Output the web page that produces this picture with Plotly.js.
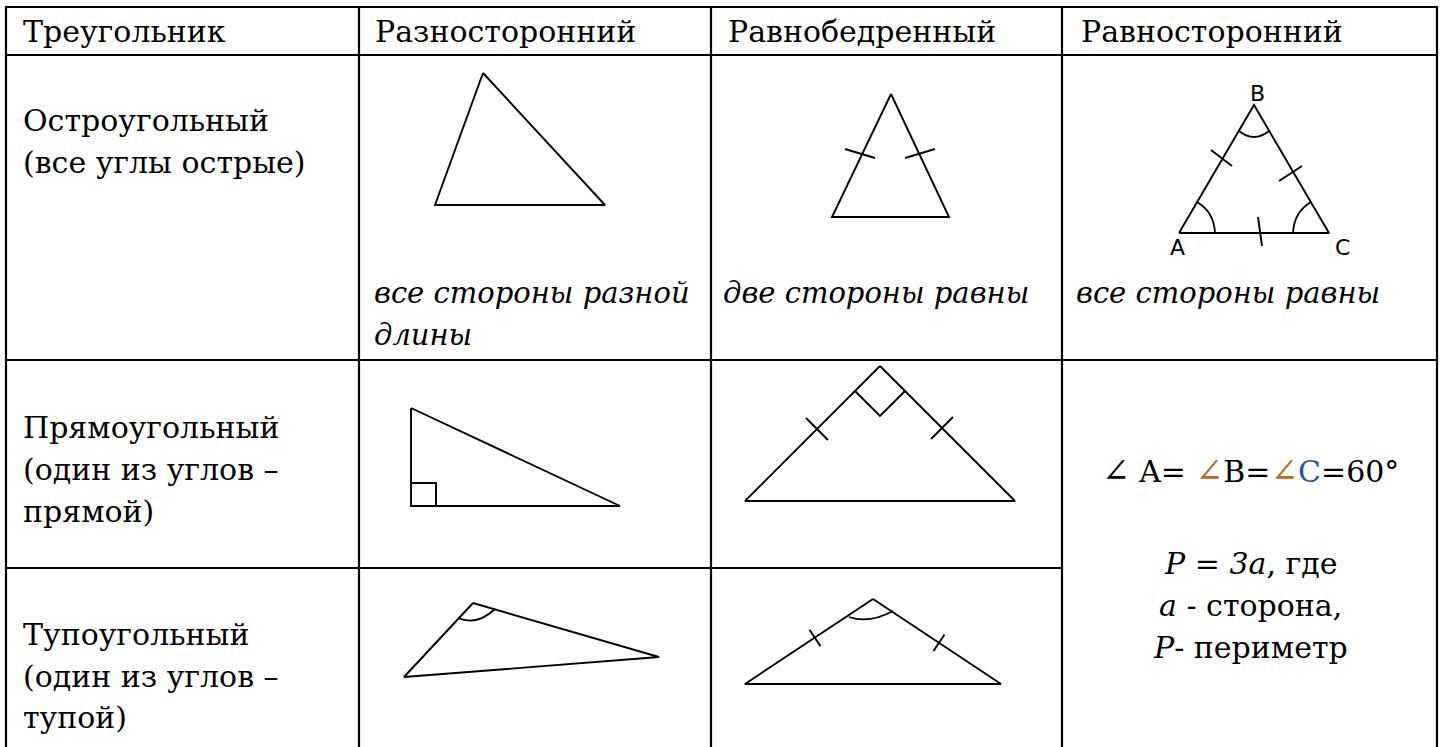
<!DOCTYPE html>
<html>
<head>
<meta charset="utf-8">
<script src="https://cdn.plot.ly/plotly-3.0.1.min.js"></script>
<style>html,body{margin:0;padding:0;background:#fff;}#chart{width:1445px;height:747px;}</style>
</head>
<body>
<div id="chart"></div>
<script>
// ---- table content ----
const headers = ["Треугольник", "Разносторонний", "Равнобедренный", "Равносторонний"];
const rowLabels = [
  ["Остроугольный", "(все углы острые)"],
  ["Прямоугольный", "(один из углов –", "прямой)"],
  ["Тупоугольный", "(один из углов –", "тупой)"]
];
const captions = [["все стороны разной", "длины"], ["две стороны равны"], ["все стороны равны"]];
const formulaLines = [
  "<span style='font-size:33px'>∠</span> A= <span style='color:#b86a1c;font-size:33px'>∠</span>B=<span style='color:#b86a1c;font-size:33px'>∠</span><span style='color:#1d5a96'>C</span>=60°",
  "<i>P = 3a</i>, где",
  "<i>a</i> - сторона,",
  "<i>P</i>- периметр"
];
const vertexLabels = ["A", "B", "C"];

// ---- triangle figures ----
const acuteScaleneX = [483, 435, 605, 483];
const acuteScaleneY = [73, 205, 205, 73];

const acuteIsoX = [891, 832, 949, 891];
const acuteIsoY = [94, 217, 217, 94];
const acuteIsoTicksX = [845, 875, null, 905, 935];
const acuteIsoTicksY = [149, 158, null, 158, 149];

const equiX = [1179, 1254, 1329, 1179];
const equiY = [233, 105, 233, 233];
const equiTicksX = [1211, 1232, null, 1279, 1302, null, 1258, 1262];
const equiTicksY = [150, 166, null, 181, 166, null, 217, 246];
// arcs: [startX, startY, ctrlX, ctrlY, endX, endY]
const equiArcs = [
  [1239, 131, 1254, 143, 1269, 131],
  [1197, 202, 1214, 212, 1215, 233],
  [1311, 202, 1294, 212, 1293, 233]
];
const equiLabelX = [1177, 1257, 1342];
const equiLabelY = [247, 93, 247];

const rightScaleneX = [411, 411, 620, 411];
const rightScaleneY = [408, 506, 506, 408];
const rightSquareX = [411, 436, 436];
const rightSquareY = [483, 483, 506];

const rightIsoX = [880, 745, 1015, 880];
const rightIsoY = [366, 501, 501, 366];
const rightIsoMarkX = [855, 880, 905];
const rightIsoMarkY = [391, 416, 391];
const rightIsoTicksX = [806, 828, null, 953, 931];
const rightIsoTicksY = [418, 440, null, 417, 439];

const obtuseScaleneX = [473, 404, 659, 473];
const obtuseScaleneY = [603, 677, 657, 603];
const obtuseScaleneArc = [458, 618, 477, 626, 495, 609];

const obtuseIsoX = [873, 745, 1001, 873];
const obtuseIsoY = [599, 684, 684, 599];
const obtuseIsoTicksX = [809.5, 820.5, null, 944.5, 933.5];
const obtuseIsoTicksY = [629.7, 646.3, null, 634.5, 651];
const obtuseIsoArc = [849, 617, 869, 624, 893, 611];

// ---- layout configuration (positions / styles) ----
const W = 1445, H = 747;
const colLines = [6, 359, 711, 1062, 1437];
const rowLines = [7, 55, 360];
const row23Line = 568;      // spans first three columns only
const textX = [22, 374, 727, 1080];
const italicX = [373, 722, 1075];
const headerBase = 42;
const rowLabelBases = [[131, 173], [438, 480, 522], [645, 687, 728]];
const captionBases = [[303, 345], [303], [303]];
const formulaX = 1250;
const formulaBases = [481, 574, 616, 658];
const FS = 30;
const FS_IT = 29;
const serif = "DejaVu Serif";
const sans = "DejaVu Sans";
const lineCol = "#000";

function mid(base, fs) { return base - 0.35 * fs; }

const annotations = [];
function addText(txt, x, base, opts) {
  opts = opts || {};
  annotations.push({
    x: x, y: mid(base, opts.size || FS), xref: "x", yref: "y",
    text: txt, showarrow: false,
    xanchor: opts.xanchor || "left", yanchor: "middle",
    borderpad: 0,
    font: {family: opts.family || serif, size: opts.size || FS, color: "#000"}
  });
}

headers.forEach((h, i) => addText(h, textX[i], headerBase));
rowLabels.forEach((lines, r) => lines.forEach((t, k) => addText(t, textX[0], rowLabelBases[r][k])));
captions.forEach((lines, c) => lines.forEach((t, k) => addText("<i>" + t + "</i>", italicX[c], captionBases[c][k], {size: FS_IT})));
formulaLines.forEach((t, k) => addText(t, formulaX, formulaBases[k], {xanchor: "center"}));
vertexLabels.forEach((t, k) => annotations.push({
  x: equiLabelX[k], y: equiLabelY[k], xref: "x", yref: "y", text: t, showarrow: false,
  xanchor: "center", yanchor: "middle", font: {family: sans, size: 22, color: "#000"}
}));

const shapes = [];
colLines.forEach(x => shapes.push({type: "line", xref: "x", yref: "y", x0: x, x1: x, y0: rowLines[0] - 1, y1: H + 2, line: {color: lineCol, width: 2.2}}));
rowLines.forEach(y => shapes.push({type: "line", xref: "x", yref: "y", x0: colLines[0] - 1, x1: colLines[4] + 1, y0: y, y1: y, line: {color: lineCol, width: 2.2}}));
shapes.push({type: "line", xref: "x", yref: "y", x0: colLines[0] - 1, x1: colLines[3] + 1, y0: row23Line, y1: row23Line, line: {color: lineCol, width: 2.2}});

function arcPath(a) {
  return "M" + a[0] + "," + a[1] + " Q" + a[2] + "," + a[3] + " " + a[4] + "," + a[5];
}
equiArcs.concat([obtuseScaleneArc, obtuseIsoArc]).forEach(a => shapes.push({
  type: "path", xref: "x", yref: "y", path: arcPath(a), line: {color: lineCol, width: 1.8}
}));

const figW = 1.9;
function lineTrace(x, y, w) {
  return {x: x, y: y, type: "scatter", mode: "lines", line: {color: lineCol, width: w || figW}, hoverinfo: "skip", connectgaps: false};
}
const data = [
  lineTrace(acuteScaleneX, acuteScaleneY),
  lineTrace(acuteIsoX, acuteIsoY),
  lineTrace(acuteIsoTicksX, acuteIsoTicksY),
  lineTrace(equiX, equiY),
  lineTrace(equiTicksX, equiTicksY),
  lineTrace(rightScaleneX, rightScaleneY),
  lineTrace(rightSquareX, rightSquareY),
  lineTrace(rightIsoX, rightIsoY),
  lineTrace(rightIsoMarkX, rightIsoMarkY),
  lineTrace(rightIsoTicksX, rightIsoTicksY),
  lineTrace(obtuseScaleneX, obtuseScaleneY),
  lineTrace(obtuseIsoX, obtuseIsoY),
  lineTrace(obtuseIsoTicksX, obtuseIsoTicksY)
];

const layout = {
  width: W, height: H,
  margin: {l: 0, r: 0, t: 0, b: 0, pad: 0},
  paper_bgcolor: "#fff", plot_bgcolor: "#fff",
  showlegend: false,
  font: {family: serif},
  xaxis: {range: [0, W], visible: false, fixedrange: true},
  yaxis: {range: [H, 0], visible: false, fixedrange: true},
  annotations: annotations,
  shapes: shapes
};
Plotly.newPlot("chart", data, layout, {staticPlot: true, displayModeBar: false});
</script>
</body>
</html>
